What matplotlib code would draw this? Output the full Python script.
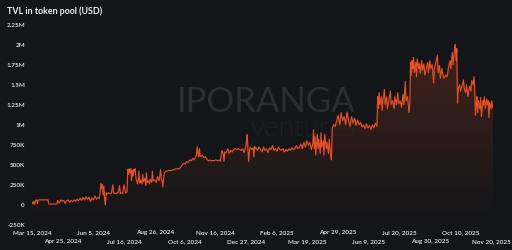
import datetime as dt
import numpy as np
import matplotlib
matplotlib.use("Agg")
import matplotlib.pyplot as plt
import matplotlib.dates as mdates
from matplotlib.ticker import FixedLocator, FixedFormatter
from matplotlib.colors import LinearSegmentedColormap

# ---------------- data ----------------
start_date = dt.date(2024, 3, 15)
day_offsets = [
    0, 1, 2, 3, 4, 5, 6, 7, 8, 9, 11, 13, 15, 17, 19, 21,
    22, 25, 28, 31, 33,
    34, 36, 38, 40, 42, 44, 46, 48, 50, 52, 54, 56, 58, 60, 62, 64, 66, 68,
    70, 72, 74, 76, 78, 80, 82, 84, 86, 88, 90,
    91, 92, 93, 94, 95, 96, 97, 98, 99,
    100, 102, 104, 106, 108, 109, 111, 113, 115, 117, 118, 119, 121, 123, 125, 127,
    128, 129, 130, 131, 132, 133, 134, 135, 136, 137, 138,
    139, 141, 142, 143, 144, 145, 147, 148, 149, 151, 152, 153, 154, 156, 157, 158,
    160, 161, 162, 164, 166, 168, 170, 172, 173, 174, 175, 176,
    177, 179, 181, 183, 185, 187, 189, 191, 193, 195, 197,
    199, 201, 203, 205, 207, 209, 211, 213, 215, 217, 219,
    220, 221, 222, 223, 224, 225,
    226, 228, 230, 232, 234,
    236, 238, 240, 242, 244, 246, 248, 250, 252,
    253, 254, 256, 257, 258, 260, 262, 264, 266, 268,
    270, 272, 274, 276, 278, 280, 282, 284, 286,
    287, 288, 289, 290, 291,
    292, 294, 296, 297, 298, 300, 302, 304,
    306, 308, 310, 312, 314, 316, 318, 320, 322, 324, 326, 328, 330, 332,
    334, 336, 338, 340, 342, 344, 346, 348, 350, 352, 354, 356, 358, 360, 362,
    364, 366, 368, 370, 372, 374, 376,
    377, 378, 379, 380, 382, 383, 384, 386, 387, 388, 390, 391, 392, 394, 395,
    397, 398, 400, 401,
    402, 404, 406, 408, 410, 412, 414, 416, 418, 420, 422, 424, 426, 428, 430,
    432, 434, 436, 438, 440,
    442, 444, 446, 448, 450, 452, 454, 456, 458, 460, 462,
    463, 464, 465, 466, 468, 469, 470, 472, 473, 475, 476, 478, 480, 481, 483,
    485, 486, 488, 490, 491, 493, 495, 497, 498, 500, 501, 503, 505, 506,
    507, 508, 509, 510, 511, 512, 514, 515, 516, 518, 519, 520, 522, 523, 525,
    526, 528, 530, 531, 533, 534, 536, 538, 539, 541, 543, 544, 546, 547, 549,
    551, 552, 554, 556, 558, 560, 561, 563, 564, 566, 567, 568, 569,
    570, 571, 573, 574, 576, 578, 579, 581, 582, 584, 586, 588, 589, 591, 592, 593,
    594, 595, 596, 597, 598, 600, 601, 602, 604, 605, 606, 607, 609, 610, 611,
    612, 613, 615, 616, 617, 618,
]
tvl_k = [
    30, 10, 45, 5, 40, 60, 60, 15, 60, 62, 62, 62, 60, 62, 60, 62,
    10, 8, 10, 8, 12,
    55, 20, 60, 45, 55, 15, 50, 60, 30, 55, 40, 60, 45, 70, 50, 80, 55, 90,
    60, 100, 70, 95, 40, 85, 60, 110, 70, 90, 80,
    170, 270, 200, 250, 120, 230, 60, 0, 150,
    130, 150, 140, 145, 250, 150, 140, 145, 150, 240, 140, 150, 140, 250, 150, 160,
    440, 380, 450, 400, 450, 300, 430, 360, 440, 420, 450,
    330, 260, 300, 420, 270, 310, 260, 380, 290, 330, 240, 400, 280, 300, 260, 320,
    280, 420, 300, 310, 280, 350, 300, 440, 320, 300, 225, 330,
    400, 420, 420, 430, 425, 430, 440, 440, 450, 450, 450,
    470, 500, 520, 510, 540, 530, 560, 550, 580, 560, 600,
    620, 725, 640, 600, 700, 610,
    600, 620, 590, 600, 570,
    550, 560, 545, 555, 550, 560, 550, 560, 545,
    600, 680, 640, 540, 660, 650, 700, 640, 680, 660,
    690, 700, 690, 700, 690, 680, 700, 650, 720,
    780, 875, 700, 540, 650,
    720, 690, 710, 600, 730, 700, 680, 720,
    690, 660, 720, 680, 700, 650, 710, 690, 740, 680, 700, 670, 720, 690,
    680, 700, 660, 690, 670, 700, 680, 710, 690, 700, 740, 700, 720, 760, 700,
    780, 720, 800, 740, 780, 690, 760,
    935, 700, 850, 620, 880, 700, 820, 640, 900, 720, 800, 620, 880, 700, 780,
    640, 820, 600, 560,
    950, 1000, 980, 1050, 1120, 1000, 1150, 1050, 1100, 1000, 1160, 1050, 980, 1100, 1020,
    1080, 990, 1060, 1000, 1030,
    970, 1000, 950, 1010, 960, 990, 940, 1000, 960, 1020, 980,
    1350, 1200, 1400, 1250, 1350, 1180, 1300, 1440, 1250, 1350, 1200, 1300, 1420, 1250, 1300,
    1200, 1350, 1250, 1400, 1260, 1300, 1220, 1380, 1250, 1540, 1300, 1350, 1150, 1250,
    1780, 1620, 1800, 1700, 1840, 1650, 1780, 1600, 1820, 1700, 1760, 1640, 1800, 1680, 1760,
    1620, 1700, 1780, 1650, 1800, 1700, 1750, 1520, 1700, 1780, 1870, 1650, 1740, 1580, 1700,
    1600, 1580, 1620, 1600, 1720, 1800, 1700, 1900, 1750, 1950, 2000, 1800, 1950,
    1270, 1450, 1500, 1420, 1480, 1560, 1450, 1400, 1500, 1350, 1480, 1420, 1550, 1500, 1600, 1480,
    1120, 1250, 1350, 1150, 1300, 1200, 1340, 1100, 1300, 1250, 1350, 1200, 1320, 1250, 1300,
    1090, 1280, 1200, 1300, 1220, 1210,
]
tick_interval_days = 41
n_date_ticks = 16
y_ticks = [-250e3, 0, 250e3, 500e3, 750e3, 1e6, 1.25e6, 1.5e6, 1.75e6, 2e6, 2.25e6]
y_tick_labels = ["-250K", "0", "250K", "500K", "750K", "1M", "1.25M", "1.5M", "1.75M", "2M", "2.25M"]
title = "TVL in token pool (USD)"
watermark_main = "IPORANGA"
watermark_sub = "ventures"

# ---------------- style ----------------
BG = "#131518"
LINE = "#e44f28"
TXT = "#ececec"
FONT = ["Lato", "DejaVu Sans"]
plt.rcParams["font.family"] = FONT

dates = [start_date + dt.timedelta(days=d) for d in day_offsets]
xnum = mdates.date2num(dates)
y = np.array(tvl_k) * 1000.0

fig = plt.figure(figsize=(5.12, 2.5), dpi=100, facecolor=BG)
W, H = 512.0, 250.0
x0_px, ppd = 32.3, 0.7454
xl0 = mdates.date2num(start_date) - 0.5
xl1 = mdates.date2num(start_date) + 618
ax_left = (x0_px - 0.5 * ppd) / W
ax_w = (619 * ppd) / W
y_top_px, y_bot_px = 24.6, 224.8
ax = fig.add_axes([ax_left, (H - y_bot_px) / H, ax_w, (y_bot_px - y_top_px) / H])
ax.set_facecolor(BG)
ax.set_xlim(xl0, xl1)
ax.set_ylim(-250e3, 2.25e6)

# watermark (between fill and line)
ax.text(266.5 / W, 1 - 112.5 / H, watermark_main, transform=fig.transFigure,
        ha="center", va="baseline", fontsize=25, color="#2b2d31",
        fontfamily=FONT, zorder=2)
ax.text(303 / W, 1 - 136 / H, watermark_sub, transform=fig.transFigure,
        ha="center", va="baseline", fontsize=20.5, color="#303236",
        fontweight="light", fontfamily=FONT, zorder=2, alpha=0.9)

# gradient fill under the line
ymin = -250e3
poly = ax.fill_between(xnum, y, ymin, facecolor="none", edgecolor="none")
grad = np.linspace(0, 1, 256).reshape(-1, 1)
cmap = LinearSegmentedColormap.from_list(
    "g", [(0.894, 0.325, 0.165, 0.0), (0.894, 0.325, 0.165, 0.23)])
im = ax.imshow(grad, cmap=cmap, aspect="auto", origin="lower",
               extent=[xl0, xl1, ymin, 2.0e6], zorder=1)
im.set_clip_path(poly.get_paths()[0], transform=ax.transData)
ax.plot(xnum, y, color=LINE, lw=0.85, zorder=3)

# axes styling
for s in ax.spines.values():
    s.set_visible(False)
ax.yaxis.set_major_locator(FixedLocator(y_ticks))
ax.yaxis.set_major_formatter(FixedFormatter(y_tick_labels))
ax.tick_params(axis="y", length=0, pad=5.0, labelsize=4.6, labelcolor=TXT)

tick_dates = [start_date + dt.timedelta(days=tick_interval_days * k) for k in range(n_date_ticks)]
tick_labels = [f"{d.strftime('%b')} {d.day}, {d.year}" for d in tick_dates]
tnum = mdates.date2num(tick_dates)
ax.xaxis.set_major_locator(FixedLocator(tnum[0::2]))
ax.xaxis.set_major_formatter(FixedFormatter(tick_labels[0::2]))
ax.xaxis.set_minor_locator(FixedLocator(tnum[1::2]))
ax.xaxis.set_minor_formatter(FixedFormatter(tick_labels[1::2]))
ax.tick_params(axis="x", which="major", length=0, pad=3.6, labelsize=4.6, labelcolor=TXT)
ax.tick_params(axis="x", which="minor", length=0, pad=10.1, labelsize=4.6, labelcolor=TXT)
for lab in ax.get_xticklabels(which="both") + ax.get_yticklabels():
    lab.set_fontweight("semibold")

fig.text(7.3 / W, 1 - 11 / H, title, ha="left", va="center", fontsize=6.4,
         fontweight="bold", color="#f0f0f0", fontfamily=FONT)

fig.savefig("out.png", dpi=100, facecolor=BG)
